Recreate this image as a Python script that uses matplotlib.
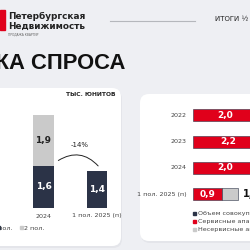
import matplotlib
matplotlib.use("Agg")
import matplotlib.pyplot as plt
from matplotlib.patches import FancyBboxPatch, Rectangle

# data
years_left = ["2024", "1 пол. 2025 (п)"]
h1 = [1.6, 1.4]
h2 = [1.9, 0.0]
change_label = "-14%"

years_right = ["2022", "2023", "2024", "1 пол. 2025 (п)"]
service = [2.0, 2.2, 2.0, 0.9]
nonservice = [1.4, 1.3, 1.5, 0.5]
legend_right = ["Объем совокупного спроса", "Сервисные апартаменты", "Несервисные апартаменты"]

BG = "#eeeff3"
NAVY = "#2b3347"
LGRAY = "#cacaca"
RED = "#e0001b"
TXT = "#222222"
FONT = "DejaVu Sans"

W = H = 250
fig = plt.figure(figsize=(2.5, 2.5), dpi=100, facecolor=BG)
bg = fig.add_axes([0, 0, 1, 1])
bg.set_xlim(0, W)
bg.set_ylim(H, 0)
bg.axis("off")


def px_axes(x0, y0, x1, y1):
    return fig.add_axes([x0 / W, 1 - y1 / H, (x1 - x0) / W, (y1 - y0) / H])


# header
bg.add_patch(Rectangle((0, 10), 5, 20, color=RED))
bg.text(8, 16, "Петербургская", fontsize=6.4, fontweight="bold", color=TXT, va="center", family=FONT)
bg.text(8, 26, "Недвижимость", fontsize=6.4, fontweight="bold", color=TXT, va="center", family=FONT)
bg.text(8, 34, "ПРОДАЖА КВАРТИР", fontsize=2.2, color="#666666", va="center", family=FONT)
bg.plot([110, 195], [21, 21], color="#b5b7bc", lw=0.8)
bg.text(215, 19, "ИТОГИ ½", fontsize=5, color=TXT, va="center", family=FONT)
bg.text(125, 63, "ДИНАМИКА СПРОСА", fontsize=15.8, fontweight="bold", color="#111111",
        ha="right", va="center", family="Liberation Sans")

# cards
for x0, y0, x1, y1 in [(-20, 88, 121, 246), (140, 94, 275, 241)]:
    bg.add_patch(FancyBboxPatch((x0 + 1, y0 + 2), x1 - x0, y1 - y0,
                                boxstyle="round,pad=0,rounding_size=9",
                                fc="#e4e5ea", ec="none"))
    bg.add_patch(FancyBboxPatch((x0, y0), x1 - x0, y1 - y0,
                                boxstyle="round,pad=0,rounding_size=9",
                                fc="white", ec="none"))

# left chart: vertical stacked bars
axl = px_axes(0, 100, 120, 208)
xl = range(len(years_left))
axl.bar(xl, h1, width=0.39, color=NAVY)
axl.bar(xl, h2, bottom=h1, width=0.39, color=LGRAY)
axl.set_xlim(-0.813, 1.43)
axl.set_ylim(0, 4.075)
axl.axis("off")
for i in xl:
    axl.text(i, h1[i] / 2, f"{h1[i]:.1f}".replace(".", ","), color="white",
             fontsize=6.5, fontweight="bold", ha="center", va="center", family=FONT)
    if h2[i] > 0:
        axl.text(i, h1[i] + h2[i] / 2, f"{h2[i]:.1f}".replace(".", ","), color=TXT,
                 fontsize=6.5, fontweight="bold", ha="center", va="center", family=FONT)
    bg.text(43.5 + 53.5 * i, 216, years_left[i], fontsize=4.6, color="#444444",
            ha="center", va="center", family=FONT)
bg.text(115, 95, "ТЫС. ЮНИТОВ", fontsize=4.3, fontweight="bold", color=TXT,
        ha="right", va="center", family=FONT)
bg.annotate("", xy=(100, 168), xytext=(56, 162),
            arrowprops=dict(arrowstyle="-", color=TXT, lw=0.7,
                            connectionstyle="arc3,rad=-0.45"))
bg.text(80, 145, change_label, fontsize=5, color=TXT, ha="center", va="center", family=FONT)
bg.add_patch(Rectangle((-3, 226), 3, 3, color=NAVY))
bg.text(12, 228, "1 пол.", fontsize=4.6, color="#444444", ha="right", va="center", family=FONT)
bg.add_patch(Rectangle((20, 226), 3, 3, color=LGRAY))
bg.text(24.5, 228, "2 пол.", fontsize=4.6, color="#444444", ha="left", va="center", family=FONT)

# right chart: horizontal stacked bars
axr = px_axes(193, 100, 250, 205)
yr = range(len(years_right))
axr.barh(yr, service, height=0.46, color=RED, ec=NAVY, lw=0.4)
axr.barh(yr, nonservice, left=service, height=0.46, color=LGRAY, ec=NAVY, lw=0.4)
axr.set_xlim(0, 57 / 32)
axr.set_ylim(3.42, -0.59)
axr.axis("off")
for i in yr:
    axr.text(service[i] / 2, i, f"{service[i]:.1f}".replace(".", ","), color="white",
             fontsize=6.5, fontweight="bold", ha="center", va="center", family=FONT)
    tot = service[i] + nonservice[i]
    axr.text(tot + 0.15, i, f"{tot:.1f}".replace(".", ","), color="#111111",
             fontsize=7, fontweight="bold", ha="left", va="center", family=FONT, clip_on=True)
    bg.text(187, 115.5 + 26.2 * i, years_right[i], fontsize=4.6, color="#444444",
            ha="right", va="center", family=FONT)
for j, (lab, c) in enumerate(zip(legend_right, [NAVY, RED, LGRAY])):
    y = 213 + 8 * j
    bg.add_patch(Rectangle((193, y - 1.5), 3, 3, color=c))
    bg.text(198, y, lab, fontsize=4.6, color="#444444", ha="left", va="center", family=FONT)

fig.savefig("out.png", dpi=100, facecolor=BG)
